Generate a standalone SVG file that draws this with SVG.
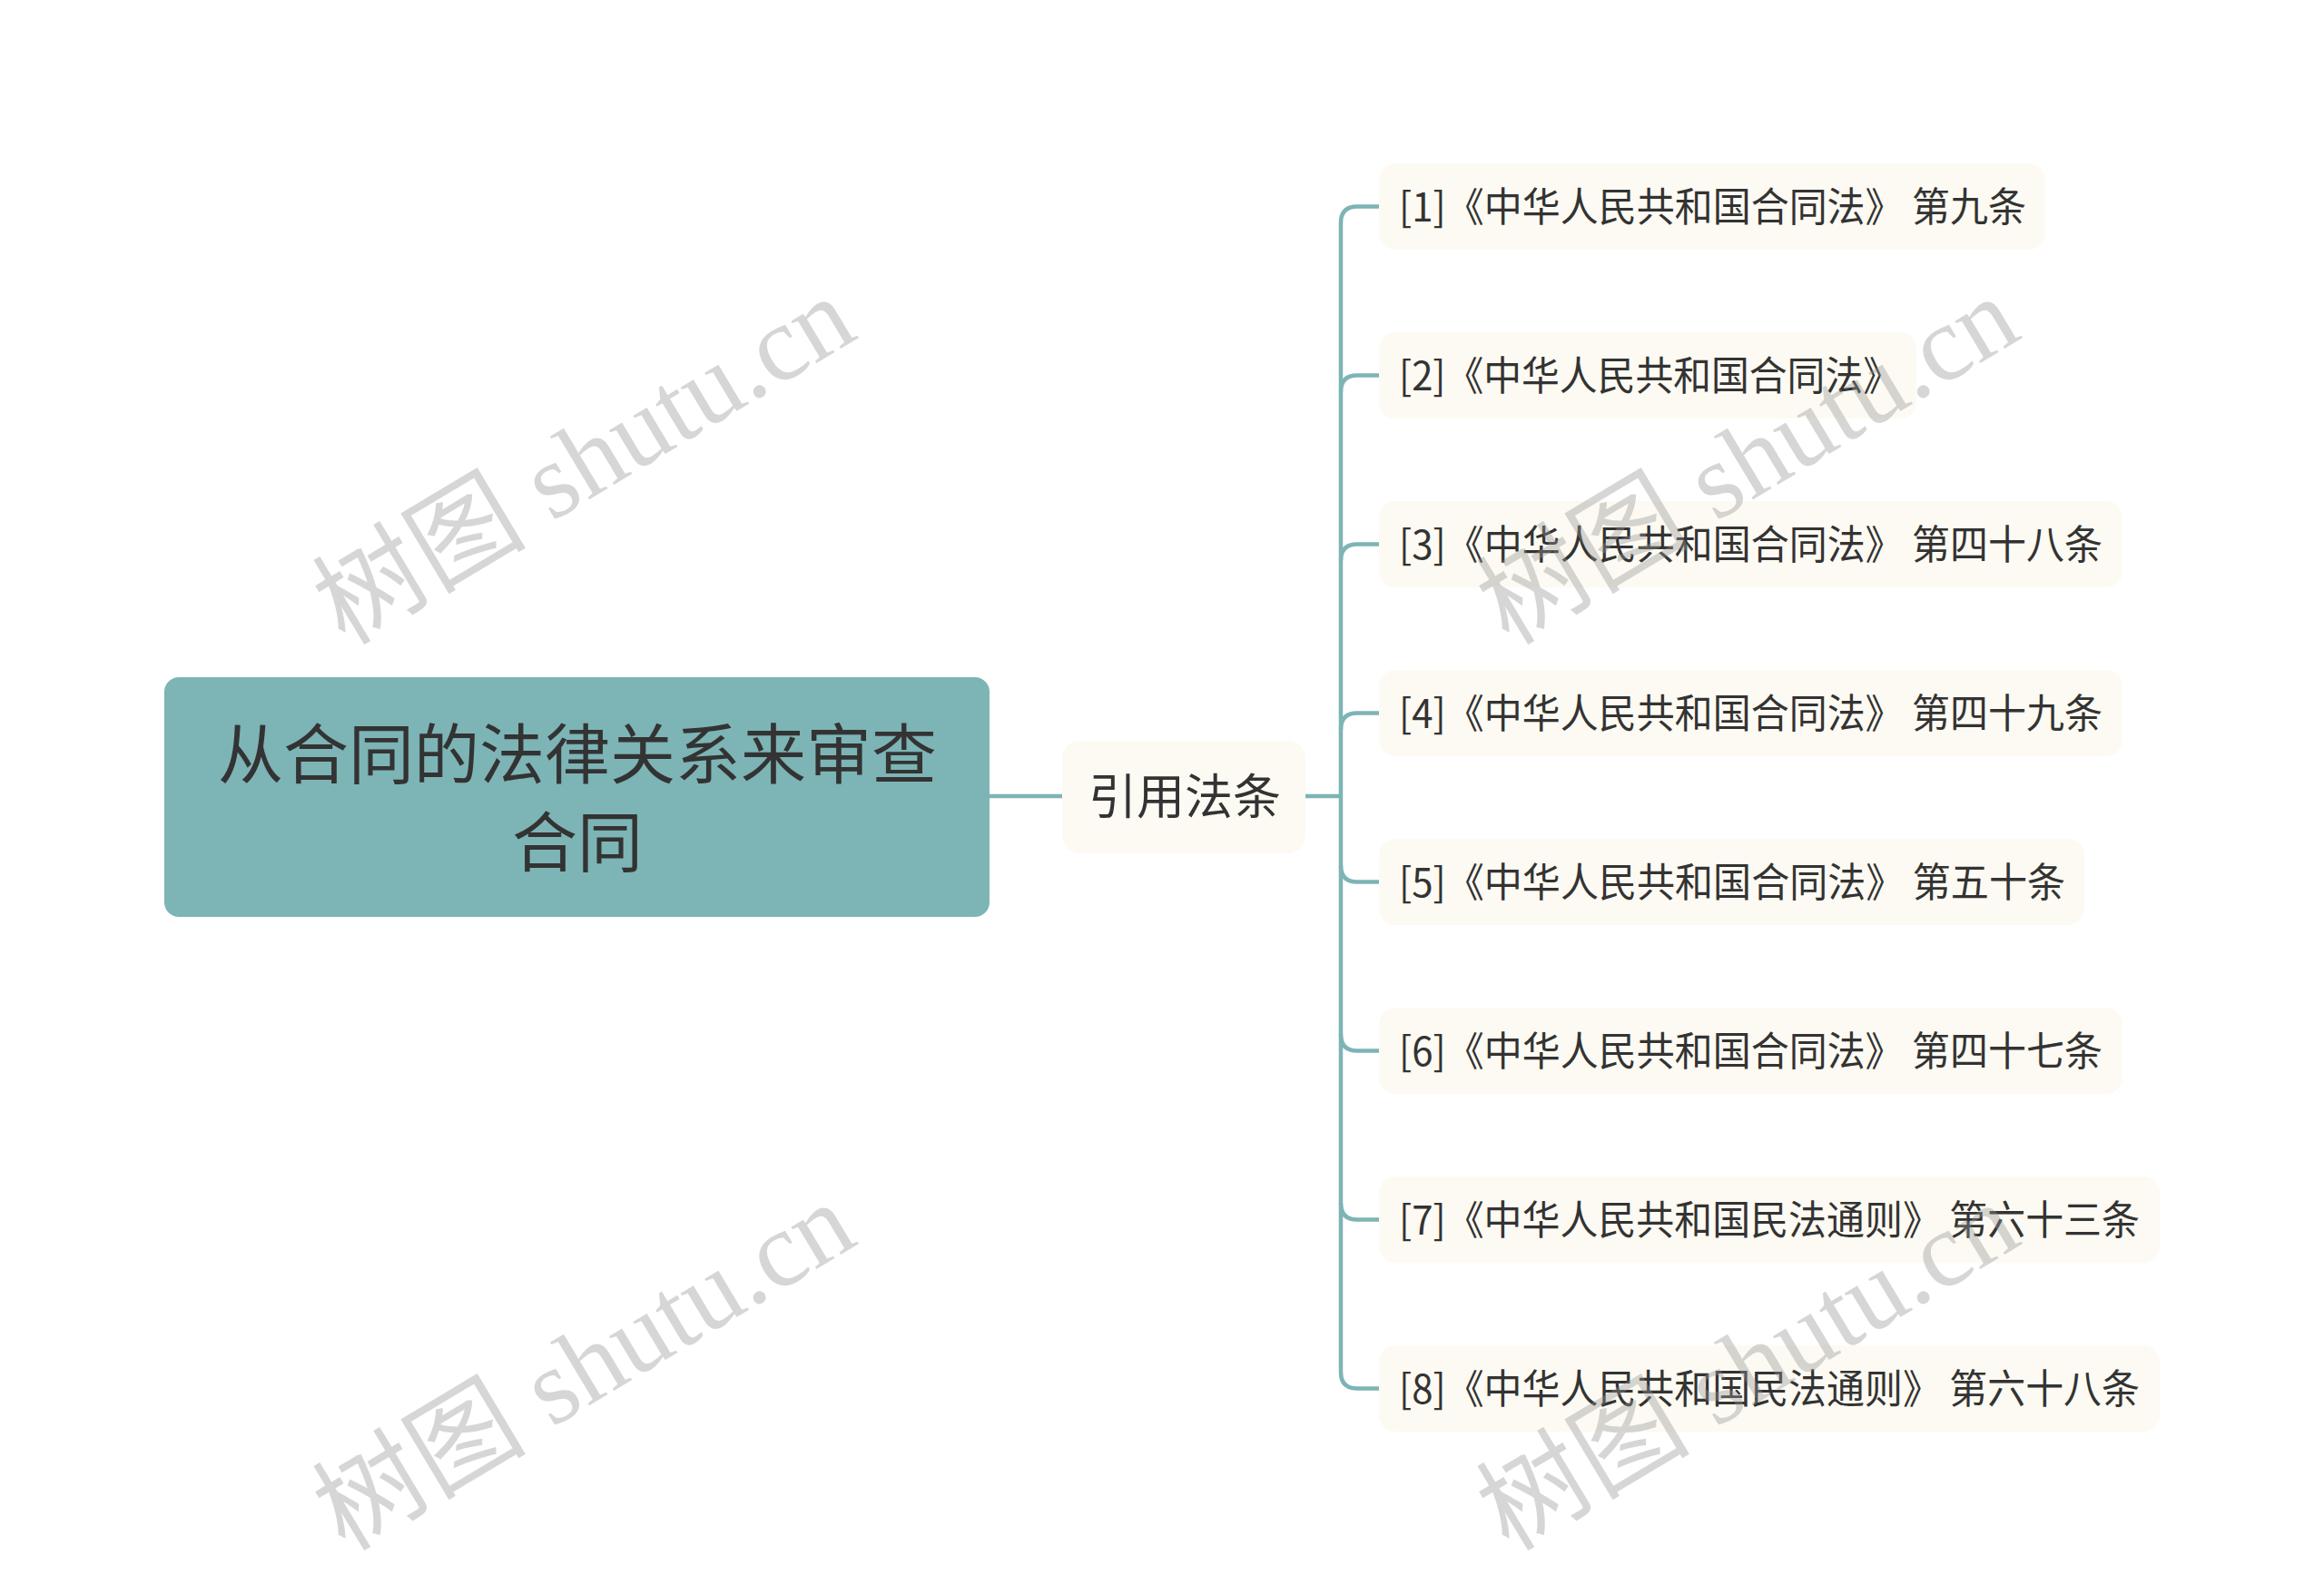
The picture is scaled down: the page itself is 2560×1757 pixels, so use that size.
<svg xmlns="http://www.w3.org/2000/svg" width="2560" height="1757" viewBox="0 0 2560 1757">
<style>
text{font-family:"Noto Sans CJK SC","Noto Sans",sans-serif;fill:#333333}
.root{fill:#7db4b5}
.mid,.leaf{fill:#fcfaf2}
.rt{font-size:72px;text-anchor:middle}
.mt{font-size:53px;text-anchor:middle}
.lt{font-size:44px}
.conn{fill:none;stroke:#7db4b5;stroke-width:4.5}
.wm{font-family:"Liberation Serif","Noto Sans CJK SC",serif;font-size:118px;fill:#969696;opacity:0.38}
</style>
<rect width="2560" height="1757" fill="#ffffff"/>
<g id="connectors">
<path class="conn" d="M1090,877 H1170"/>
<path class="conn" d="M1438,877 H1477"/>
<path class="conn" d="M1519,227.5 H1495 Q1477,227.5 1477,245.5 V1511.5 Q1477,1529.5 1495,1529.5 H1519"/>
<path class="conn" d="M1477,431.5 Q1477,413.5 1495,413.5 H1519"/>
<path class="conn" d="M1477,617.5 Q1477,599.5 1495,599.5 H1519"/>
<path class="conn" d="M1477,803.5 Q1477,785.5 1495,785.5 H1519"/>
<path class="conn" d="M1477,953.5 Q1477,971.5 1495,971.5 H1519"/>
<path class="conn" d="M1477,1139.5 Q1477,1157.5 1495,1157.5 H1519"/>
<path class="conn" d="M1477,1325.5 Q1477,1343.5 1495,1343.5 H1519"/>
</g>
<g id="root">
<rect class="root" x="181" y="746" width="909" height="264" rx="16"/>
<text class="rt" x="636" y="857">从合同的法律关系来审查</text>
<text class="rt" x="636" y="954">合同</text>
</g>
<g id="mid">
<rect class="mid" x="1170" y="816" width="268" height="124" rx="20"/>
<text class="mt" x="1305" y="897">引用法条</text>
</g>
<g id="leaf1">
<rect class="leaf" x="1519" y="180" width="734" height="95" rx="18"/>
<text class="lt" x="1541" y="244" textLength="691" lengthAdjust="spacingAndGlyphs">[1]《中华人民共和国合同法》 第九条</text>
</g>
<g id="leaf2">
<rect class="leaf" x="1519" y="366" width="592" height="95" rx="18"/>
<text class="lt" x="1541" y="430" textLength="553" lengthAdjust="spacingAndGlyphs">[2]《中华人民共和国合同法》</text>
</g>
<g id="leaf3">
<rect class="leaf" x="1519" y="552" width="819" height="95" rx="18"/>
<text class="lt" x="1541" y="616" textLength="775" lengthAdjust="spacingAndGlyphs">[3]《中华人民共和国合同法》 第四十八条</text>
</g>
<g id="leaf4">
<rect class="leaf" x="1519" y="738" width="819" height="95" rx="18"/>
<text class="lt" x="1541" y="802" textLength="775" lengthAdjust="spacingAndGlyphs">[4]《中华人民共和国合同法》 第四十九条</text>
</g>
<g id="leaf5">
<rect class="leaf" x="1519" y="924" width="777" height="95" rx="18"/>
<text class="lt" x="1541" y="988" textLength="734" lengthAdjust="spacingAndGlyphs">[5]《中华人民共和国合同法》 第五十条</text>
</g>
<g id="leaf6">
<rect class="leaf" x="1519" y="1110" width="819" height="95" rx="18"/>
<text class="lt" x="1541" y="1174" textLength="775" lengthAdjust="spacingAndGlyphs">[6]《中华人民共和国合同法》 第四十七条</text>
</g>
<g id="leaf7">
<rect class="leaf" x="1519" y="1296" width="860" height="95" rx="18"/>
<text class="lt" x="1541" y="1360" textLength="816" lengthAdjust="spacingAndGlyphs">[7]《中华人民共和国民法通则》 第六十三条</text>
</g>
<g id="leaf8">
<rect class="leaf" x="1519" y="1482" width="860" height="95" rx="18"/>
<text class="lt" x="1541" y="1546" textLength="816" lengthAdjust="spacingAndGlyphs">[8]《中华人民共和国民法通则》 第六十八条</text>
</g>
<g id="watermarks">
<text class="wm" transform="translate(380,712) rotate(-31)">树图 shutu.cn</text>
<text class="wm" transform="translate(1662,712) rotate(-31)">树图 shutu.cn</text>
<text class="wm" transform="translate(380,1710) rotate(-31)">树图 shutu.cn</text>
<text class="wm" transform="translate(1662,1710) rotate(-31)">树图 shutu.cn</text>
</g>
</svg>
